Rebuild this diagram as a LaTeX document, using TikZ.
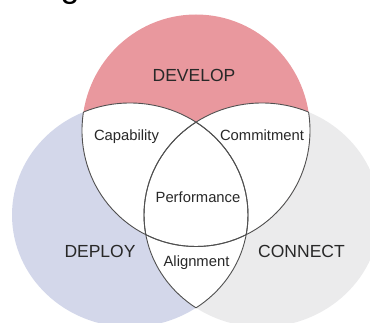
\documentclass[tikz,border=0pt]{standalone}
\usepackage{fontspec}
\setmainfont{Liberation Sans}
\begin{document}
\begin{tikzpicture}[x=1pt,y=-1pt,
  outline/.style={draw=arcgray,line width=0.9pt},
  biglabel/.style={anchor=base,text=labelgray,font=\fontsize{17.5}{20}\selectfont,inner sep=0pt},
  smalllabel/.style={anchor=base,text=labelgray,font=\fontsize{14.8}{17}\selectfont,inner sep=0pt}]
\definecolor{devred}{RGB}{233,152,158}
\definecolor{deployblue}{RGB}{211,215,234}
\definecolor{connectgray}{RGB}{235,235,236}
\definecolor{arcgray}{RGB}{80,80,80}
\definecolor{labelgray}{RGB}{40,40,40}
\path[use as bounding box] (0,0) rectangle (370,323);
\clip (0,0) rectangle (370,323);
% the three sets
\def\topc{(196,130.5) circle [x radius=114pt, y radius=116pt]}
\def\bluec{(130,215) circle [x radius=118pt, y radius=112pt]}
\def\grayc{(262,215) circle [x radius=118pt, y radius=112pt]}
% fills
\fill[deployblue] \bluec;
\fill[connectgray] \grayc;
\fill[devred] \topc;
% pairwise overlaps are white
\begin{scope}
  \clip \topc;
  \fill[white] \bluec;
  \fill[white] \grayc;
\end{scope}
\begin{scope}
  \clip \bluec;
  \fill[white] \grayc;
\end{scope}
% outlines only where the sets overlap
\begin{scope}
  \clip \bluec;
  \path[outline] \topc;
  \path[outline] \grayc;
\end{scope}
\begin{scope}
  \clip \grayc;
  \path[outline] \topc;
  \path[outline] \bluec;
\end{scope}
\begin{scope}
  \clip \topc;
  \path[outline] \bluec;
  \path[outline] \grayc;
\end{scope}
% heading fragment at the top edge
\node[anchor=south,inner sep=0pt,text=black,font=\fontsize{34}{38}\selectfont] (heading) at (70,5) {g};
% labels
\node[biglabel] (develop) at (194,82) {DEVELOP};
\node[biglabel] (deploy) at (100,258) {DEPLOY};
\node[biglabel] (connect) at (301.5,258) {CONNECT};
\node[smalllabel] (capability) at (126.5,140.5) {Capability};
\node[smalllabel] (commitment) at (262,140.5) {Commitment};
\node[smalllabel] (performance) at (198,202.5) {Performance};
\node[smalllabel] (alignment) at (196.5,267) {Alignment};
\end{tikzpicture}
\end{document}
